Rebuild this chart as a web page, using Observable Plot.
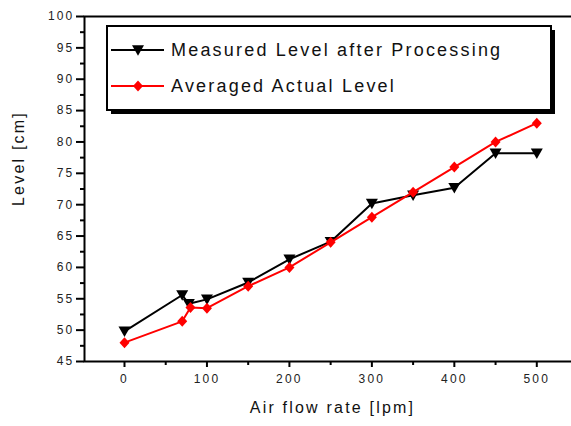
<!DOCTYPE html>
<html>
<head>
<meta charset="utf-8">
<script src="https://cdn.jsdelivr.net/npm/d3@7"></script>
<script src="https://cdn.jsdelivr.net/npm/@observablehq/plot@0.6"></script>
<style>
  html, body { margin: 0; padding: 0; overflow: hidden; background: #fff; }
  #chart { width: 571px; height: 426px; overflow: hidden; }
  #chart svg { display: block; max-width: none !important; width: 580px !important; height: 426px !important;
               font-family: "Liberation Sans", Arial, sans-serif; letter-spacing: 2.2px; }
</style>
</head>
<body>
<div id="chart"></div>
<script>
// Air flow rate [lpm] vs. level [cm]
const flowMeasured  = [0, 70, 78, 100, 150, 200, 250, 300, 350, 400, 450, 500];
const levelMeasured = [49.8, 55.6, 54.2, 54.9, 57.6, 61.3, 64.1, 70.2, 71.5, 72.7, 78.2, 78.2];
const flowActual    = [0, 70, 80, 100, 150, 200, 250, 300, 350, 400, 450, 500];
const levelActual   = [48.0, 51.4, 53.6, 53.5, 57.0, 60.0, 64.0, 68.0, 72.0, 76.0, 80.0, 83.0];

const seriesNames = ["Measured Level after Processing", "Averaged Actual Level"];
const xTitle = "Air flow rate [lpm]";
const yTitle = "Level [cm]";

const xMajor = [0, 100, 200, 300, 400, 500];
const xMinor = [50, 150, 250, 350, 450];
const yMajor = [45, 50, 55, 60, 65, 70, 75, 80, 85, 90, 95, 100];
const yMinor = [47.5, 52.5, 57.5, 62.5, 67.5, 72.5, 77.5, 82.5, 87.5, 92.5, 97.5];

const measured = flowMeasured.map((x, i) => ({x, y: levelMeasured[i]}));
const actual = flowActual.map((x, i) => ({x, y: levelActual[i]}));

// Origin-style symbols: downward triangle and diamond
const triangleDown = {
  draw(ctx, size) {
    const r = Math.sqrt(size / Math.PI);
    ctx.moveTo(-r, -0.8 * r);
    ctx.lineTo(r, -0.8 * r);
    ctx.lineTo(0, 0.95 * r);
    ctx.closePath();
  }
};
const diamond = {
  draw(ctx, size) {
    const r = Math.sqrt(size / Math.PI);
    ctx.moveTo(0, -1.1 * r);
    ctx.lineTo(r, 0);
    ctx.lineTo(0, 1.1 * r);
    ctx.lineTo(-r, 0);
    ctx.closePath();
  }
};

const chart = Plot.plot({
  width: 580,
  height: 426,
  marginLeft: 84,
  marginRight: 0,
  marginTop: 16,
  marginBottom: 65,
  x: {domain: [-48.5, 553]},
  y: {domain: [45, 100]},
  marks: [
    Plot.axisX(xMajor, {tickSize: 6, tickPadding: 7, fontSize: 12, strokeWidth: 2, label: null, fill: "#222"}),
    Plot.axisX(xMinor, {tickSize: 4, text: null, strokeWidth: 2, label: null}),
    Plot.axisY(yMajor, {tickSize: 8, tickPadding: 2, fontSize: 12, strokeWidth: 2, label: null, fill: "#222"}),
    Plot.axisY(yMinor, {tickSize: 4, text: null, strokeWidth: 2, label: null}),
    Plot.frame({strokeWidth: 2, stroke: "black"}),
    Plot.line(measured, {x: "x", y: "y", stroke: "black", strokeWidth: 2}),
    Plot.dot(measured, {x: "x", y: "y", symbol: triangleDown, r: 6, fill: "black", stroke: "none"}),
    Plot.line(actual, {x: "x", y: "y", stroke: "#ff0000", strokeWidth: 2}),
    Plot.dot(actual, {x: "x", y: "y", symbol: diamond, r: 5, fill: "#ff0000", stroke: "none"}),
    Plot.text([xTitle], {text: d => d, frameAnchor: "bottom", dy: 51, fontSize: 16, fill: "#111"}),
    Plot.text([yTitle], {text: d => d, frameAnchor: "left", dx: -66, dy: 17, rotate: -90, fontSize: 16, fill: "#111"})
  ]
});

document.getElementById("chart").appendChild(chart);

// Boxed legend with drop shadow
const svg = d3.select(chart);
const lg = svg.append("g").attr("class", "legend").attr("text-anchor", "start");
const box = {x: 107, y: 26, w: 444, h: 84, shadow: 4};
lg.append("rect")
  .attr("x", box.x + box.shadow).attr("y", box.y + box.shadow)
  .attr("width", box.w).attr("height", box.h)
  .attr("fill", "black");
lg.append("rect")
  .attr("x", box.x).attr("y", box.y)
  .attr("width", box.w).attr("height", box.h)
  .attr("fill", "white").attr("stroke", "black").attr("stroke-width", 2);

const entries = [
  {name: seriesNames[0], color: "black", symbol: triangleDown, size: 36 * Math.PI},
  {name: seriesNames[1], color: "#ff0000", symbol: diamond, size: 25 * Math.PI}
];
entries.forEach((e, i) => {
  const cy = 50 + i * 36;
  lg.append("line")
    .attr("x1", 111).attr("x2", 164).attr("y1", cy).attr("y2", cy)
    .attr("stroke", e.color).attr("stroke-width", 2);
  lg.append("path")
    .attr("transform", `translate(138,${cy})`)
    .attr("d", d3.symbol(e.symbol, e.size)())
    .attr("fill", e.color);
  lg.append("text")
    .attr("x", 171).attr("y", cy).attr("dy", "0.35em")
    .attr("font-size", 18).attr("fill", "#111")
    .text(e.name);
});
</script>
</body>
</html>
